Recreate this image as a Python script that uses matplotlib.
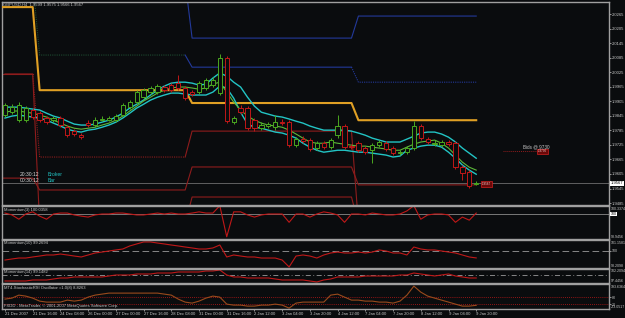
import numpy as np
import matplotlib
matplotlib.use("Agg")
import matplotlib.pyplot as plt
from matplotlib.patches import Rectangle
import matplotlib.transforms as mtransforms

plt.rcParams["font.family"] = ["Liberation Sans", "DejaVu Sans"]

# ---------------- data (GBPUSD H4) ----------------
opens = [1.9848,1.9860,1.9827,1.9827,1.9869,1.9856,1.9836,1.9827,1.9836,1.9798,
         1.9782,1.9765,1.9815,1.9807,1.9827,1.9827,1.9827,1.9848,1.9881,1.9902,
         1.9922,1.9943,1.9943,1.9964,1.9972,1.9980,1.9960,1.9943,1.9943,1.9960,
         1.9972,1.9939,2.0083,1.9819,1.9877,1.9877,1.9827,1.9794,1.9803,1.9798,
         1.9819,1.9819,1.9724,1.9749,1.9745,1.9712,1.9732,1.9716,1.9765,1.9803,
         1.9720,1.9732,1.9712,1.9703,1.9724,1.9732,1.9712,1.9691,1.9695,1.9712,
         1.9803,1.9749,1.9728,1.9724,1.9737,1.9732,1.9633,1.9613,1.9563]
closes = [1.9889,1.9881,1.9889,1.9877,1.9840,1.9827,1.9819,1.9836,1.9807,1.9765,
          1.9770,1.9757,1.9807,1.9827,1.9832,1.9836,1.9844,1.9889,1.9902,1.9943,
          1.9951,1.9960,1.9968,1.9951,1.9951,1.9960,1.9918,1.9935,1.9980,1.9993,
          1.9993,2.0083,1.9823,1.9836,1.9860,1.9794,1.9794,1.9807,1.9811,1.9819,
          1.9815,1.9724,1.9749,1.9741,1.9708,1.9732,1.9716,1.9745,1.9803,1.9716,
          1.9716,1.9703,1.9695,1.9724,1.9737,1.9708,1.9691,1.9695,1.9712,1.9803,
          1.9753,1.9737,1.9732,1.9737,1.9728,1.9633,1.9609,1.9555,1.9567]
highs = [1.9898,1.9893,1.9902,1.9885,1.9877,1.9865,1.9844,1.9844,1.9844,1.9807,
         1.9790,1.9774,1.9827,1.9840,1.9844,1.9844,1.9852,1.9898,1.9910,1.9951,
         1.9960,1.9968,1.9976,1.9972,1.9980,2.0013,1.9968,1.9951,1.9988,2.0001,
         2.0005,2.0100,2.0092,1.9844,1.9889,1.9885,1.9836,1.9819,1.9819,1.9848,
         1.9832,1.9827,1.9757,1.9761,1.9753,1.9741,1.9741,1.9753,1.9848,1.9811,
         1.9728,1.9741,1.9720,1.9732,1.9745,1.9741,1.9720,1.9703,1.9720,1.9823,
         1.9811,1.9757,1.9745,1.9745,1.9745,1.9741,1.9642,1.9621,1.9576]
lows = [1.9840,1.9852,1.9819,1.9819,1.9832,1.9819,1.9811,1.9819,1.9798,1.9757,
        1.9761,1.9749,1.9798,1.9798,1.9823,1.9823,1.9819,1.9844,1.9873,1.9893,
        1.9914,1.9935,1.9935,1.9943,1.9943,1.9951,1.9910,1.9927,1.9935,1.9951,
        1.9964,1.9931,1.9815,1.9811,1.9852,1.9786,1.9782,1.9786,1.9794,1.9786,
        1.9807,1.9716,1.9716,1.9732,1.9699,1.9703,1.9708,1.9708,1.9753,1.9708,
        1.9708,1.9695,1.9687,1.9650,1.9716,1.9699,1.9683,1.9683,1.9687,1.9703,
        1.9745,1.9728,1.9720,1.9716,1.9720,1.9625,1.9580,1.9547,1.9559]

band_upper = [1.9881,1.9881,1.9881,1.9877,1.9873,1.9869,1.9856,1.9844,1.9836,1.9823,
              1.9811,1.9807,1.9807,1.9811,1.9819,1.9827,1.9840,1.9856,1.9877,1.9893,
              1.9910,1.9931,1.9951,1.9968,1.9980,1.9984,1.9984,1.9980,1.9972,1.9976,
              2.0001,2.0022,2.0009,1.9984,1.9964,1.9922,1.9885,1.9860,1.9852,1.9844,
              1.9840,1.9832,1.9823,1.9815,1.9803,1.9794,1.9786,1.9786,1.9786,1.9786,
              1.9782,1.9774,1.9765,1.9753,1.9745,1.9737,1.9737,1.9737,1.9749,1.9761,
              1.9774,1.9778,1.9778,1.9770,1.9757,1.9737,1.9712,1.9691,1.9670]
band_mid = [1.9860,1.9865,1.9865,1.9860,1.9856,1.9848,1.9840,1.9827,1.9815,1.9803,
            1.9794,1.9790,1.9794,1.9798,1.9807,1.9815,1.9827,1.9844,1.9865,1.9885,
            1.9906,1.9922,1.9939,1.9951,1.9960,1.9964,1.9964,1.9960,1.9955,1.9960,
            1.9976,1.9984,1.9943,1.9902,1.9869,1.9844,1.9827,1.9815,1.9807,1.9803,
            1.9798,1.9786,1.9770,1.9753,1.9737,1.9732,1.9732,1.9737,1.9732,1.9728,
            1.9724,1.9720,1.9720,1.9716,1.9712,1.9708,1.9703,1.9703,1.9716,1.9728,
            1.9737,1.9741,1.9745,1.9732,1.9712,1.9683,1.9654,1.9633,1.9621]
band_lower = [1.9836,1.9844,1.9848,1.9844,1.9840,1.9836,1.9827,1.9815,1.9803,1.9790,
              1.9782,1.9778,1.9786,1.9790,1.9798,1.9807,1.9819,1.9836,1.9856,1.9877,
              1.9893,1.9910,1.9922,1.9931,1.9939,1.9939,1.9935,1.9931,1.9931,1.9931,
              1.9943,1.9968,1.9960,1.9918,1.9860,1.9811,1.9798,1.9794,1.9786,1.9778,
              1.9774,1.9765,1.9753,1.9732,1.9716,1.9703,1.9695,1.9699,1.9703,1.9703,
              1.9699,1.9695,1.9695,1.9691,1.9687,1.9683,1.9675,1.9679,1.9703,1.9712,
              1.9720,1.9724,1.9724,1.9716,1.9695,1.9670,1.9642,1.9621,1.9604]

# stepped level lines: value per segment, segment start bars
seg_starts = [0, 5, 27, 51]
gold_levels = [2.0294, 1.9951, 1.9898, 1.9827]
blue_a_levels = [2.0400, 2.0400, 2.0166, 2.0257]
blue_b_levels = [2.0400, 2.0096, 2.0046, 1.9984]
red_q_levels = [2.0018, 1.9675, 1.9782, 1.9400]
red_p_levels = [2.0018, 1.9400, 1.9510, 1.9400]
red_s_levels = [1.9588, 1.9539, 1.9634, 1.9560]

mom3 = [100.04,99.96,99.78,100.00,100.09,99.91,99.78,100.00,100.04,100.04,
        99.96,99.91,99.87,99.96,100.00,100.00,100.04,100.04,100.00,99.96,
        99.96,100.00,100.04,100.00,100.04,100.00,100.00,100.04,100.09,100.04,
        100.04,100.35,99.04,100.09,100.09,99.96,99.87,99.96,100.00,100.00,
        100.00,99.65,100.00,100.00,99.87,100.00,100.09,100.04,99.96,99.65,
        100.00,100.00,99.96,100.04,100.00,99.96,99.96,100.00,100.13,100.35,
        99.78,99.96,100.00,100.00,99.96,99.65,99.87,99.74,100.04]
mom10 = [99.05,99.16,99.26,99.26,99.37,99.47,99.58,99.58,99.68,99.58,
         99.47,99.37,99.58,99.79,99.89,100.00,100.11,100.21,100.53,100.74,
         100.95,100.95,100.84,100.74,100.63,100.53,100.42,100.32,100.21,100.21,
         100.32,100.63,99.37,99.58,99.47,99.37,99.37,99.26,99.26,99.26,
         99.05,98.32,99.47,99.58,99.47,99.26,99.58,99.79,99.89,99.79,
         99.79,99.89,99.79,99.89,100.11,100.00,99.79,99.79,99.58,100.42,
         100.21,100.11,100.11,100.00,99.89,99.79,99.58,99.37,99.27]
mom14 = [98.13,98.13,98.13,98.13,98.47,98.47,98.47,98.81,99.15,99.15,
         99.49,99.49,99.49,99.49,99.49,99.83,100.17,100.17,100.17,100.51,
         100.51,100.51,100.85,100.85,100.85,101.19,101.19,101.19,101.19,101.53,
         101.53,101.87,100.17,99.49,99.49,99.15,99.15,99.15,99.15,98.81,
         98.47,98.47,98.47,98.47,98.13,97.79,98.47,98.81,99.49,99.49,
         99.49,99.49,99.83,99.83,99.83,99.83,99.83,100.17,100.17,100.85,
         100.51,100.17,99.83,100.17,100.51,99.83,99.49,99.15,99.15]
stoch = [62.7,71.3,97.3,88.7,71.3,45.3,36.7,36.7,36.7,54.0,
         45.3,54.0,80.0,97.3,106.0,114.7,114.7,114.7,114.7,114.7,
         114.7,114.7,114.7,106.0,97.3,62.7,36.7,28.0,45.3,71.3,
         88.7,80.0,19.3,10.7,10.7,2.0,2.0,10.7,10.7,19.3,
         10.7,-15.3,28.0,36.7,36.7,36.7,36.7,97.3,106.0,80.0,
         54.0,54.0,45.3,45.3,36.7,36.7,28.0,45.3,97.3,175.3,
         123.3,88.7,71.3,54.0,36.7,19.3,2.0,2.0,8.83]

time_labels = ["21 Dec 2007", "21 Dec 16:00", "24 Dec 08:00", "26 Dec 00:00",
               "27 Dec 00:00", "27 Dec 16:00", "28 Dec 08:00", "31 Dec 00:00",
               "31 Dec 16:00", "2 Jan 12:00", "3 Jan 04:00", "3 Jan 20:00",
               "4 Jan 12:00", "7 Jan 04:00", "7 Jan 20:00", "8 Jan 12:00",
               "9 Jan 04:00", "9 Jan 20:00"]
price_ticks = [2.0265, 2.0205, 2.0145, 2.0085, 2.0025, 1.9965, 1.9905, 1.9845,
               1.9785, 1.9725, 1.9665, 1.9605, 1.9545, 1.9485]
bid_price = 1.9567
bids_level = 1.9700

mom3_range = (98.9456, 100.3374)
mom10_range = (98.2098, 101.1581)
mom14_range = (97.4456, 102.2094)
stoch_range = (-23.0517, 193.6364)

# ---------------- style ----------------
BG = "#0a0c0e"
TXT = "#c8c8c8"
SP = "#a0a0a0"
UP = "#4aa820"
DN = "#c01818"
CYAN = "#22c4c4"
GOLD = "#e0a024"
BLUE = "#23399a"
DRED = "#8e1c1c"
FS = 3.0
FS_SMALL = 2.6

W, H = 625, 318
fig = plt.figure(figsize=(W / 100, H / 100), dpi=100, facecolor=BG)


def rect(x0, y0, x1, y1):
    return [x0 / W, 1 - y1 / H, (x1 - x0) / W, (y1 - y0) / H]


n = len(closes)
x = np.arange(n)
XL = (-0.43, 87.16)


def style(ax, ylim):
    ax.set_facecolor(BG)
    ax.set_xlim(*XL)
    ax.set_ylim(*ylim)
    for s in ax.spines.values():
        s.set_color(SP)
        s.set_linewidth(1.0)
    ax.yaxis.tick_right()
    ax.tick_params(axis="y", colors=TXT, labelsize=FS, length=1.5, width=0.5, pad=0.8)
    ax.tick_params(axis="x", bottom=False, labelbottom=False)


def steps(levels):
    vals = np.empty(n)
    bounds = seg_starts + [n]
    for k, lev in enumerate(levels):
        vals[bounds[k]:bounds[k + 1]] = lev
    return vals


# ---------------- main panel ----------------
ax = fig.add_axes(rect(2, 2, 609, 205))
style(ax, (1.9477, 2.0315))
ax.set_yticks(price_ticks)
ax.set_yticklabels([f"{p:.4f}" for p in price_ticks])

ax.axhline(bid_price, color="#6e6e6e", lw=0.6, zorder=1)

gold = steps(gold_levels)
ax.plot(np.r_[-0.5, x], np.r_[gold[0], gold], color=GOLD, lw=1.5, zorder=3)

ba = steps(blue_a_levels)
ax.plot(x, ba, color=BLUE, lw=0.8, zorder=2)
bb = steps(blue_b_levels)
ax.plot(x[:27], bb[:27], color="#1c4a30", lw=0.8, ls=(0, (1, 1)), zorder=2)
ax.plot(x[26:51], bb[26:51], color=BLUE, lw=0.8, zorder=2)
ax.plot(x[50:], bb[50:], color=BLUE, lw=0.8, ls=(0, (1, 1)), zorder=2)

rq = steps(red_q_levels)
ax.plot(np.r_[-0.5, x[:5]], np.r_[rq[0], rq[:5]], color=DRED, lw=0.8, zorder=2)
ax.plot(x[4:27], rq[4:27], color=DRED, lw=0.8, ls=(0, (1, 1)), zorder=2)
ax.plot(x[26:], rq[26:], color=DRED, lw=0.8, zorder=2)
rp = steps(red_p_levels)
ax.plot(x, rp, color=DRED, lw=0.8, zorder=2)
rs = steps(red_s_levels)
ax.plot(np.r_[-0.5, x], np.r_[rs[0], rs], color=DRED, lw=0.8, zorder=2)

ax.plot(x, band_upper, color=CYAN, lw=1.0, zorder=4)
ax.plot(x, band_lower, color=CYAN, lw=1.0, zorder=4)
ax.plot(x, band_mid, color="#5cb83a", lw=0.8, zorder=4)

bw = 0.62
for i in range(n):
    o, c, h, l = opens[i], closes[i], highs[i], lows[i]
    col = UP if c >= o else DN
    ax.vlines(i, l, max(o, c), color=col, lw=0.7, zorder=5)
    ax.vlines(i, min(o, c), h, color=col, lw=0.7, zorder=5)
    ax.add_patch(Rectangle((i - bw / 2, min(o, c)), bw, max(abs(c - o), 0.00004),
                           facecolor=BG, edgecolor=col, lw=0.7, zorder=6))

ax.text(0.002, 0.996, "GBPUSD,H4  1.9599 1.9575 1.9566 1.9567", transform=ax.transAxes,
        fontsize=FS, color=TXT, va="top", ha="left")
ax.text(68.8, bid_price - 0.0003, "1.9567", fontsize=2.2, color="#f0d0d0", va="center",
        ha="left", zorder=7,
        bbox=dict(facecolor="#6a0808", edgecolor="#d02020", lw=0.5, pad=0.6))
ax.plot([71.9, 76.8], [bids_level, bids_level], color=DRED, lw=0.7, ls=(0, (1, 1)))
ax.text(74.7, bids_level + 0.0016, "Bids @ 9730", fontsize=FS + 0.3, color=TXT, va="center", ha="left")
ax.text(76.9, bids_level - 0.0001, "1.9730", fontsize=2.2, color="#f0d0d0", va="center",
        ha="left", bbox=dict(facecolor="#6a0808", edgecolor="#d02020", lw=0.5, pad=0.5))
trans = mtransforms.blended_transform_factory(ax.transAxes, ax.transData)
ax.text(1.003, bid_price, f"{bid_price:.4f}", transform=trans, fontsize=FS, color="black",
        va="center", ha="left", bbox=dict(facecolor="white", edgecolor="none", pad=0.3), zorder=8)

fig.text(20 / W, 1 - 175 / H, "20:30:12", fontsize=FS + 0.6, color="#d8d8d8", va="center")
fig.text(48 / W, 1 - 175 / H, "Broker", fontsize=FS + 0.6, color=CYAN, va="center")
fig.text(20 / W, 1 - 181 / H, "00:30:12", fontsize=FS + 0.6, color="#d8d8d8", va="center")
fig.text(48 / W, 1 - 181 / H, "Bar", fontsize=FS + 0.6, color=CYAN, va="center")


def side_labels(a, lo, hi, mid_vals, boxed=None):
    t = a.transAxes
    a.set_yticks(mid_vals)
    a.set_yticklabels([f"{v:g}" for v in mid_vals])
    a.tick_params(axis="y", labelsize=FS_SMALL)
    a.text(1.003, 0.98, f"{hi:.4f}", transform=t, fontsize=FS_SMALL, color=TXT, va="top", ha="left")
    a.text(1.003, 0.0, f"{lo:.4f}", transform=t, fontsize=FS_SMALL, color=TXT, va="bottom", ha="left")
    if boxed is not None:
        tb = mtransforms.blended_transform_factory(a.transAxes, a.transData)
        a.text(1.003, boxed, f"{boxed:g}", transform=tb, fontsize=FS_SMALL, color="black", va="center",
               ha="left", bbox=dict(facecolor="white", edgecolor="none", pad=0.3), zorder=8)


a3 = fig.add_axes(rect(2, 206, 609, 239))
style(a3, mom3_range)
a3.axhline(100, color="#8a8a8a", lw=0.6)
a3.plot(x, mom3, color="#c01818", lw=0.8)
side_labels(a3, *mom3_range, [], boxed=100)
a3.text(0.004, 0.95, "Momentum(3) 100.0358", transform=a3.transAxes, fontsize=FS, color=TXT, va="top")

a10 = fig.add_axes(rect(2, 240, 609, 268))
style(a10, mom10_range)
a10.axhline(100, color="#9a9a9a", lw=0.6, ls=(0, (8, 4)))
a10.plot(x, mom10, color="#c01818", lw=0.8)
side_labels(a10, *mom10_range, [100])
a10.text(0.004, 0.95, "Momentum(10) 99.2694", transform=a10.transAxes, fontsize=FS, color=TXT, va="top")

a14 = fig.add_axes(rect(2, 269, 609, 283))
style(a14, mom14_range)
a14.axhline(100, color="#9a9a9a", lw=0.6, ls=(0, (6, 3, 1, 3)))
a14.plot(x, mom14, color="#c01818", lw=0.8)
side_labels(a14, *mom14_range, [])
a14.text(0.004, 0.92, "Momentum(14) 99.1482", transform=a14.transAxes, fontsize=FS, color=TXT, va="top")

ast = fig.add_axes(rect(2, 284, 609, 309))
style(ast, stoch_range)
for lev in (80, 20):
    ast.axhline(lev, color="#c01818", lw=0.6, ls=(0, (1, 1.5)))
ast.plot(x, stoch, color="#9a4a1c", lw=0.8)
side_labels(ast, *stoch_range, [80, 20])
ast.text(0.004, 0.93, "MT4-StochasticRSI Oscillator =1.0(8) 8.8263", transform=ast.transAxes,
         fontsize=FS, color=TXT, va="top")
ast.text(0.004, 0.03, "FXDD - MetaTrader, \u00a9 2001-2007 MetaQuotes Software Corp.",
         transform=ast.transAxes, fontsize=FS, color=TXT, va="bottom")

tick_pos = np.arange(0, 4 * len(time_labels), 4)
ast.set_xticks(tick_pos)
ast.set_xticklabels(time_labels)
ast.tick_params(axis="x", bottom=True, labelbottom=True, colors=TXT, labelsize=FS,
                length=1.5, width=0.5, pad=1)
for lbl in ast.get_xticklabels():
    lbl.set_ha("left")

fig.savefig("out.png", dpi=100, facecolor=BG)
